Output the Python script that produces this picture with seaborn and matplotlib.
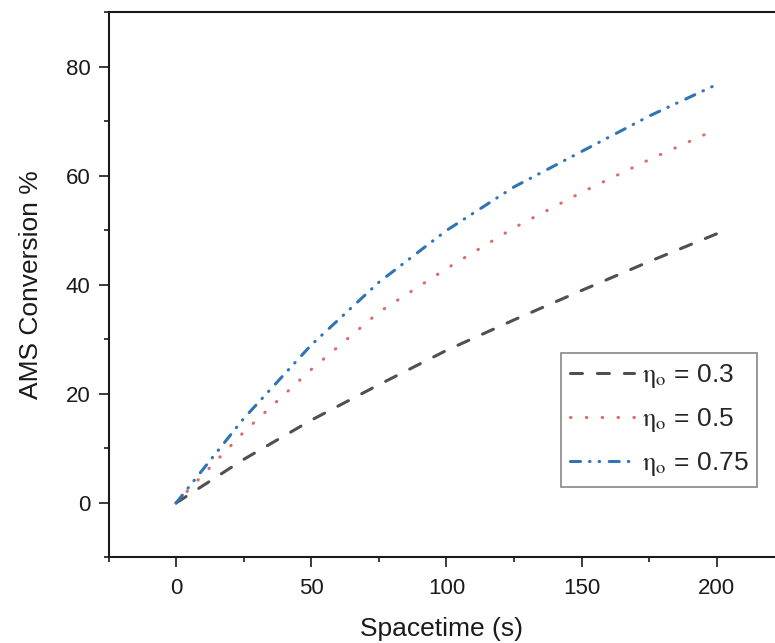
import matplotlib
matplotlib.use("Agg")
import matplotlib.pyplot as plt
from matplotlib.ticker import MultipleLocator
import seaborn as sns

# Conversion of AMS versus spacetime for three efficiency factors
spacetime = [0, 25, 50, 75, 100, 125, 150, 175, 200]
conv_eta_03 = [0, 8.0, 15.2, 21.7, 28.0, 33.6, 39.0, 44.3, 49.4]
conv_eta_05 = [0, 13.0, 24.5, 35.0, 43.0, 50.5, 57.0, 63.0, 68.6]
conv_eta_075 = [0, 15.5, 29.0, 40.5, 50.0, 58.0, 64.5, 71.0, 76.8]

series = [conv_eta_03, conv_eta_05, conv_eta_075]
labels = [r"$\mathrm{\eta}_{\mathrm{o}}$ = 0.3",
          r"$\mathrm{\eta}_{\mathrm{o}}$ = 0.5",
          r"$\mathrm{\eta}_{\mathrm{o}}$ = 0.75"]
colors = ["#505050", "#e06a6a", "#2f74b5"]
styles = [
    (0, (8.6, 10.8)),
    (0, (0.4, 11.0)),
    (0, (7.2, 6.5, 0.4, 6.5, 0.4, 6.9)),
]

sns.set_style("ticks")
plt.rcParams["font.family"] = ["Liberation Sans", "DejaVu Sans"]
plt.rcParams["mathtext.fontset"] = "stix"
plt.rcParams["lines.dash_capstyle"] = "round"
plt.rcParams["lines.scale_dashes"] = False

fig = plt.figure(figsize=(7.75, 6.43), dpi=100)
ax = fig.add_axes([0.140, 0.133, 0.860, 0.8476])

for values, label, color, ls in zip(series, labels, colors, styles):
    sns.lineplot(x=spacetime, y=values, ax=ax, color=color, linewidth=2.2,
                 linestyle=ls, label=label)

ax.set_xlim(-25, 221.5)
ax.set_ylim(-10, 90)
ax.xaxis.set_major_locator(MultipleLocator(50))
ax.xaxis.set_minor_locator(MultipleLocator(25))
ax.yaxis.set_major_locator(MultipleLocator(20))
ax.yaxis.set_minor_locator(MultipleLocator(10))

ax.spines["right"].set_visible(False)
for side in ("top", "left", "bottom"):
    ax.spines[side].set_linewidth(1.5)
    ax.spines[side].set_color("#1a1a1a")

ax.tick_params(which="major", direction="out", length=7, width=1.2,
               color="#1a1a1a", labelsize=16, labelcolor="#1a1a1a", pad=6)
ax.tick_params(axis="x", which="major", pad=7.5)
ax.tick_params(which="minor", direction="out", length=3.6, width=1.2,
               color="#1a1a1a")

ax.set_xlabel("Spacetime (s)", fontsize=19, color="#1a1a1a", labelpad=13)
ax.set_ylabel("AMS Conversion %", fontsize=19, color="#1a1a1a", labelpad=16)

leg = ax.legend(loc="upper left", bbox_to_anchor=(0.724, 0.451),
                bbox_transform=fig.transFigure, frameon=True, fancybox=False,
                edgecolor="#888888", framealpha=1, fontsize=19,
                handlelength=2.4, handletextpad=0.3, borderpad=0.35,
                labelspacing=0.6, borderaxespad=0)
leg.get_frame().set_linewidth(1.2)

fig.savefig("out.png", dpi=100)
